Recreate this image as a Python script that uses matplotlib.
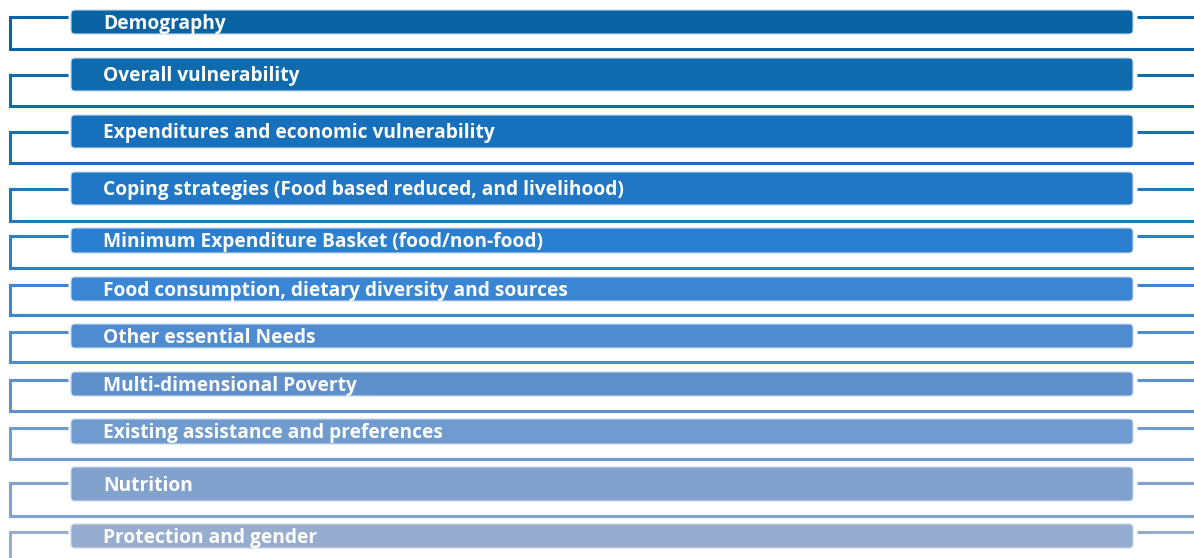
import matplotlib.pyplot as plt
from matplotlib.patches import FancyBboxPatch

# assessment topics, top to bottom
topics = ['Demography', 'Overall vulnerability', 'Expenditures and economic vulnerability',
          'Coping strategies (Food based reduced, and livelihood)',
          'Minimum Expenditure Basket (food/non-food)',
          'Food consumption, dietary diversity and sources', 'Other essential Needs',
          'Multi-dimensional Poverty', 'Existing assistance and preferences',
          'Nutrition', 'Protection and gender']

# layout in pixels (top, bottom of each box, y of connector, y of bottom rule)
box_top = [10, 58, 115, 172, 228, 277, 324, 372, 419, 467, 524]
box_bot = [34, 91, 148, 205, 253, 301, 348, 396, 444, 501, 548]
link_y = [17, 75, 132, 189, 236, 285, 332, 380, 428, 483, 532]
rule_y = [49, 106, 163, 221, 268, 315, 362, 411, 459, 516, 575]
colors = ['#0A64A4', '#0F6AAE', '#1670BB', '#1F77C6', '#2A7FD0', '#3A85D4',
          '#4F8BD0', '#5F90CC', '#6F9BCE', '#82A2CE', '#96ADD0']

W, H = 1194, 558
fig = plt.figure(figsize=(W / 100, H / 100), dpi=100)
ax = fig.add_axes([0, 0, 1, 1])
ax.set_xlim(0, W)
ax.set_ylim(H, 0)
ax.axis('off')

for i, name in enumerate(topics):
    c = colors[i]
    # connector bracket
    ax.plot([68, 10, 10, W], [link_y[i], link_y[i], rule_y[i], rule_y[i]],
            color=c, lw=2.2, solid_capstyle='butt', solid_joinstyle='miter')
    ax.plot([1137, W], [link_y[i], link_y[i]], color=c, lw=2.2, solid_capstyle='butt')
    # box
    box = FancyBboxPatch((71, box_top[i]), 1133 - 71, box_bot[i] - box_top[i],
                         boxstyle='round,pad=0,rounding_size=4',
                         fc=c, ec='#C9D9EE', lw=0.8)
    ax.add_patch(box)
    ax.text(103, (box_top[i] + box_bot[i]) / 2 + 1.8, name, color='white',
            fontsize=13.75, fontweight='bold', family='Open Sans',
            ha='left', va='center')

fig.savefig('out.png', dpi=100)
